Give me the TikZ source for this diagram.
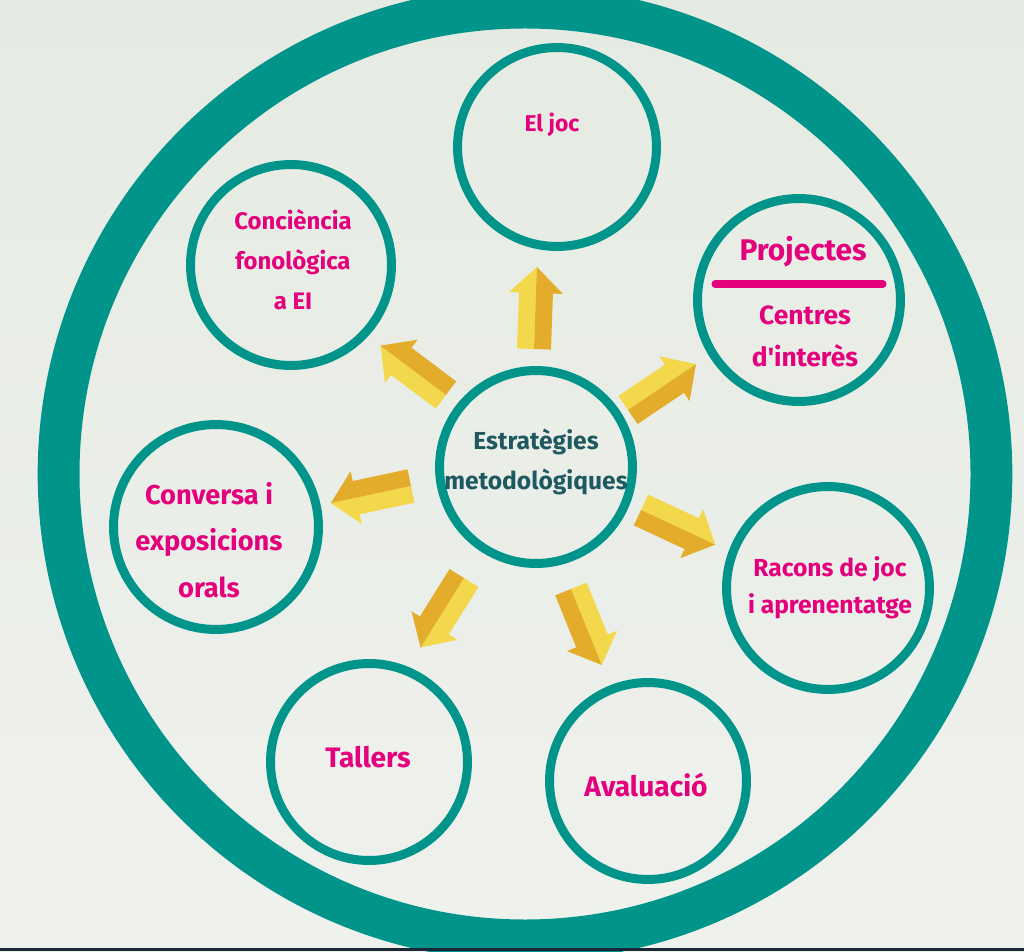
\documentclass[tikz,border=0pt]{standalone}
\usepackage{fontspec}
\setmainfont{Fira Sans}
\usepackage{xcolor}
\definecolor{ringteal}{RGB}{0,148,138}
\definecolor{pink}{RGB}{228,0,125}
\definecolor{ink}{RGB}{30,88,96}
\definecolor{sun}{RGB}{243,216,76}
\definecolor{gold}{RGB}{227,173,43}
\definecolor{bgtop}{RGB}{229,235,226}
\definecolor{bgbot}{RGB}{239,241,237}
\definecolor{navy}{RGB}{27,40,56}
\newcommand{\fsz}[2]{\bfseries\fontsize{#1}{#2}\selectfont}
\newcommand{\upquote}{{\addfontfeatures{Ligatures=TeXOff}'}}
\tikzset{
  yarrow/.pic={
    \fill[sun] (0,0) -- (0,17) -- (56,17) -- (56,27) -- (82,0) -- cycle;
    \fill[gold] (0,0) -- (0,-17) -- (56,-17) -- (56,-27) -- (82,0) -- cycle;
  }
}

\begin{document}
\begin{tikzpicture}[x=0.02cm, y=0.02cm,
        hub/.style = { circle, draw=ringteal, line width=5.1pt, inner sep=0pt, minimum size=#1},
        txt/.style = { text=pink, align=center, inner sep=0pt}]
        \useasboundingbox (0,0) rectangle (1024,951);
        \clip (0,0) rectangle (1024,951);
        % Background
        \shade[top color=bgtop, bottom color=bgbot] (0,0) rectangle (1024,951);

        % Outer ring
        \node[circle, draw=ringteal, line width=23.8pt, minimum size=18.66cm] (frame) at (525,477) {};

        % Centre
        \node[hub=3.86cm] (c) at (536,484) {};
        \node[txt, text=ink, font=\fsz{14}{23}] (ct) at ([shift={(0,5)}]c.center) {Estratègies\\metodològiques};

        % Satellites
        \node[hub=3.98cm] (joc) at (557,804) {};
        \node[hub=4.02cm] (consc) at (291,686) {};
        \node[hub=4.06cm] (proj) at (799,651) {};
        \node[hub=4.10cm] (conv) at (216,424) {};
        \node[hub=4.06cm] (racons) at (828,363) {};
        \node[hub=3.94cm] (tallers) at (369,189) {};
        \node[hub=3.94cm] (aval) at (648,170) {};

        % Satellite labels
        \node[txt, font=\fsz{13}{20}] (jtext) at ([shift={(-5,22)}]joc.center) {El joc};
        \node[txt, font=\fsz{13.6}{22.7}] (ctext) at ([shift={(2,5)}]consc.center) {Conciència\\fonològica\\a EI};
        \node[txt, font=\fsz{17}{20}] (ptext) at ([shift={(4,48)}]proj.center) {Projectes};
        \draw[pink, line width=4pt, line cap=round] ([shift={(-84,16)}]proj.center) -- ([shift={(84,16)}]proj.center);
        \node[txt, font=\fsz{15}{24}] (ptext2) at ([shift={(6,-36)}]proj.center) {Centres\\d\upquote interès};
        \node[txt, font=\fsz{15.5}{26.6}] (vtext) at ([shift={(-7,-13)}]conv.center) {Conversa i\\exposicions\\orals};
        \node[txt, font=\fsz{14}{21}] (rtext) at ([shift={(2,0)}]racons.center) {Racons de joc\\i aprenentatge};
        \node[txt, font=\fsz{16}{20}] (ttext) at ([shift={(-1,5)}]tallers.center) {Tallers};
        \node[txt, font=\fsz{16}{20}] (atext) at ([shift={(-2,-4)}]aval.center) {Avaluació};

        % Arrows
        \pic[rotate=88] at (534,602) {yarrow};
        \pic[rotate=143] at (446,556) {yarrow};
        \pic[rotate=34] at (628,541) {yarrow};
        \pic[rotate=192] at (411,465) {yarrow};
        \pic[rotate=-25] at (641,441) {yarrow};
        \pic[rotate=238] at (464,373) {yarrow};
        \pic[rotate=-68] at (571,362) {yarrow};

        % Bottom strip
        \fill[navy] (0,0) rectangle (1024,3);
    \end{tikzpicture}
\end{document}
